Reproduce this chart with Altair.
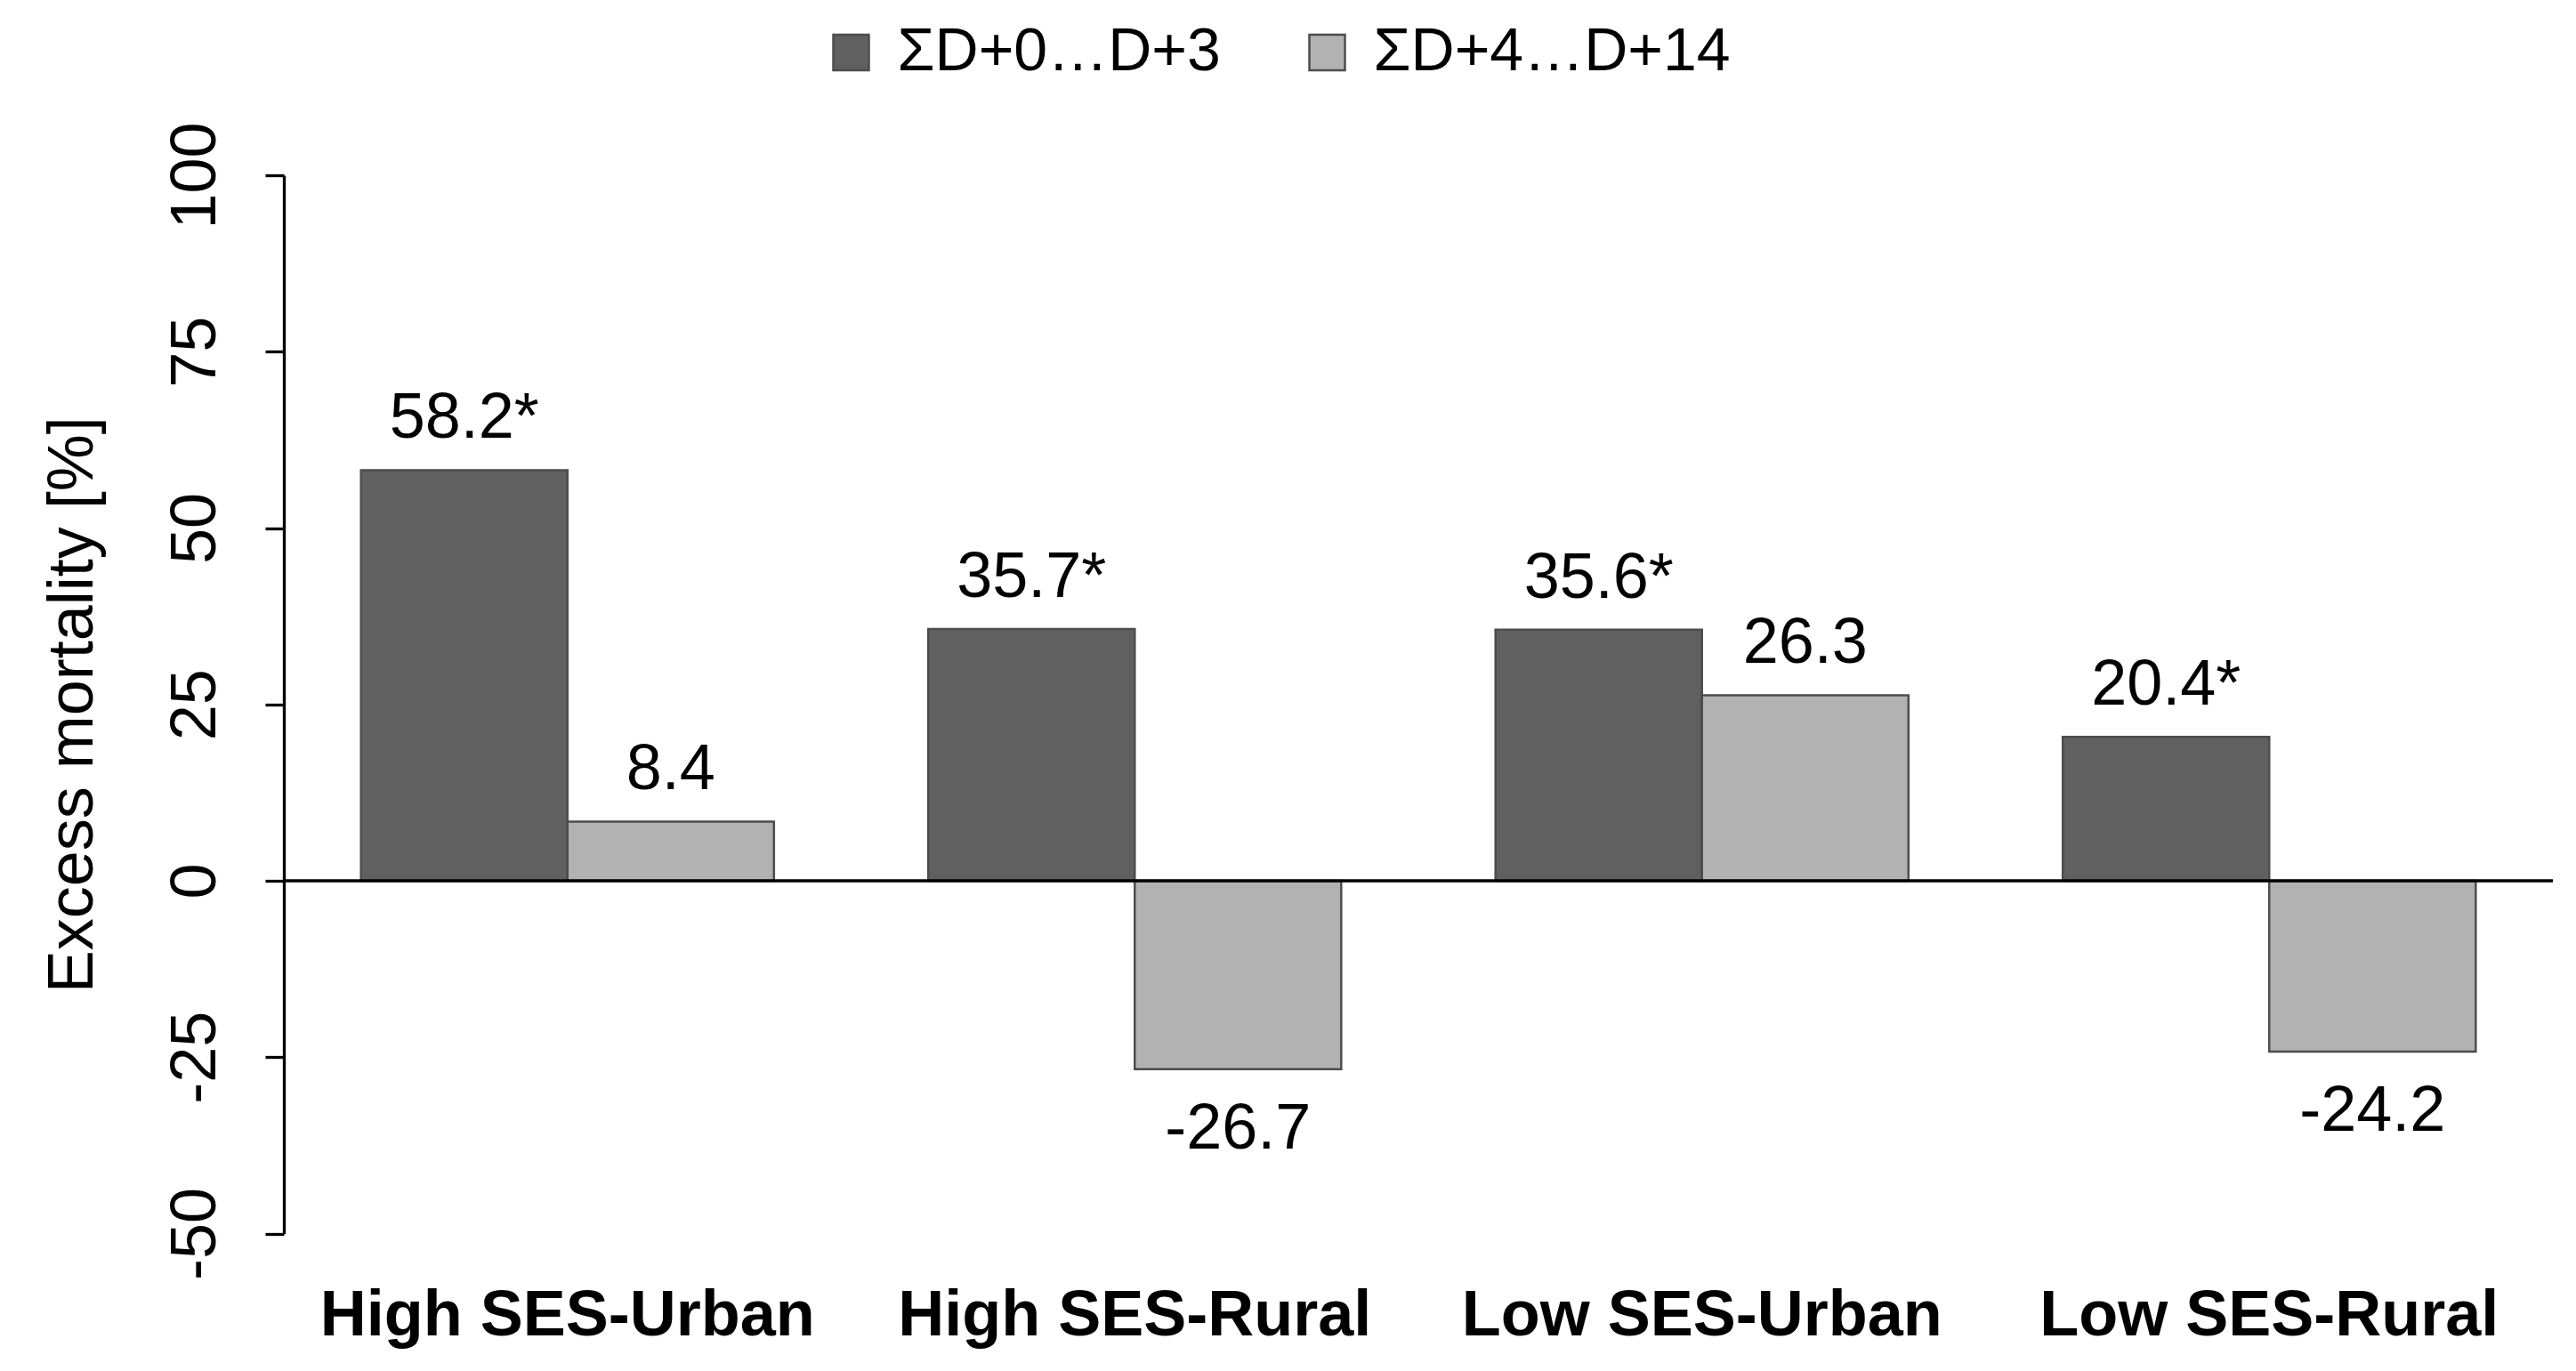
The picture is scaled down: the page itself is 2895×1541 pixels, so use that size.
import altair as alt
import pandas as pd

categories = ["High SES-Urban", "High SES-Rural", "Low SES-Urban", "Low SES-Rural"]
series_names = ["ΣD+0…D+3", "ΣD+4…D+14"]
early_values = [58.2, 35.7, 35.6, 20.4]
late_values = [8.4, -26.7, 26.3, -24.2]
early_labels = ["58.2*", "35.7*", "35.6*", "20.4*"]
late_labels = ["8.4", "-26.7", "26.3", "-24.2"]
y_ticks = [-50, -25, 0, 25, 50, 75, 100]

rows = []
for i, c in enumerate(categories):
    rows.append({"cat": c, "series": series_names[0], "value": early_values[i], "label": early_labels[i]})
    rows.append({"cat": c, "series": series_names[1], "value": late_values[i], "label": late_labels[i]})
df = pd.DataFrame(rows)

FONT = "Liberation Sans"
W = 2550
H = 1189.5

x_enc = alt.X("cat:N", sort=categories,
              scale=alt.Scale(paddingInner=0.272, paddingOuter=0.136),
              axis=alt.Axis(title=None, domain=False, ticks=False, tickSize=0,
                            labelFont=FONT, labelFontSize=72, labelFontWeight="bold",
                            labelColor="black", labelAngle=0, labelPadding=114,
                            labelBaseline="alphabetic", labelLimit=2000))
xo_enc = alt.XOffset("series:N", sort=series_names)
y_enc = alt.Y("value:Q",
              scale=alt.Scale(domain=[-50, 100], nice=False, zero=False),
              axis=alt.Axis(title="Excess mortality [%]", values=y_ticks, grid=False,
                            domainColor="black", domainWidth=3.3, tickColor="black",
                            tickWidth=3.3, tickSize=21, labelFont=FONT, labelFontSize=72,
                            labelColor="black", labelAngle=270, labelAlign="center",
                            labelBaseline="alphabetic", labelPadding=57,
                            labelExpr="'' + datum.value",
                            titleFont=FONT, titleFontSize=72, titleFontWeight="normal",
                            titleColor="black", titleAngle=270, titleAlign="center",
                            titleBaseline="alphabetic", titleX=-216, titleY=H / 2))

color_enc = alt.Color("series:N",
                      scale=alt.Scale(domain=series_names, range=["#606060", "#b2b2b2"]),
                      legend=alt.Legend(orient="none", legendX=603.5, legendY=-172,
                                        direction="horizontal", title=None,
                                        symbolType="square", symbolSize=1600,
                                        symbolStrokeColor="#4d4d4d", symbolStrokeWidth=2.5,
                                        labelFont=FONT, labelFontSize=68, labelColor="black",
                                        labelOffset=18, columnPadding=85, padding=0,
                                        labelLimit=2000))

base = alt.Chart(df)

bars = base.mark_bar(stroke="#4d4d4d", strokeWidth=2.5).encode(
    x=x_enc, xOffset=xo_enc, y=y_enc, color=color_enc)

zero = alt.Chart(pd.DataFrame({"z": [0]})).mark_rule(color="black", strokeWidth=3.3).encode(
    y=alt.Y("z:Q"), x=alt.value(0), x2=alt.value(W))

pos_text = base.transform_filter("datum.value >= 0").mark_text(
    font=FONT, fontSize=72, color="black", baseline="alphabetic", align="center", dy=-36
).encode(x=x_enc, xOffset=xo_enc, y=y_enc, text="label:N")

neg_text = base.transform_filter("datum.value < 0").mark_text(
    font=FONT, fontSize=72, color="black", baseline="alphabetic", align="center", dy=89
).encode(x=x_enc, xOffset=xo_enc, y=y_enc, text="label:N")

chart = alt.layer(bars, zero, pos_text, neg_text).properties(
    width=W, height=H,
    autosize=alt.AutoSizeParams(type="none"),
    padding={"left": 311, "top": 189, "right": 18, "bottom": 146},
    background="white",
).configure_view(stroke="transparent")

chart.save("out.html", embed_options={"renderer": "svg", "actions": False})
